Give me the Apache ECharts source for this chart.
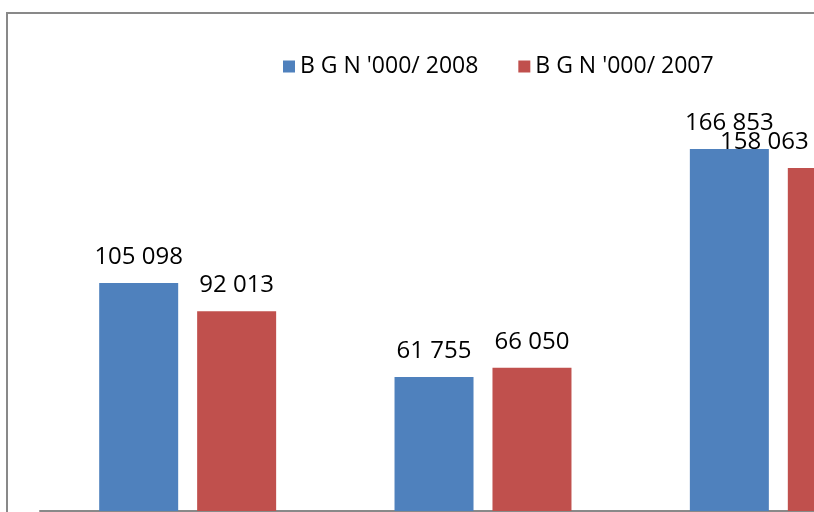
<!DOCTYPE html>
<html>
<head>
<meta charset="utf-8">
<script src="https://cdn.jsdelivr.net/npm/echarts@6/dist/echarts.min.js"></script>
<style>html,body{margin:0;padding:0;background:#fff;}#c{width:814px;height:512px;}</style>
</head>
<body>
<div id="c"></div>
<script>
var categories = ['A', 'B', 'C'];
var values2008 = [105098, 61755, 166853];
var values2007 = [92013, 66050, 158063];
var seriesNames = ["B G N '000/ 2008", "B G N '000/ 2007"];

function fmt(v) {
  return String(v).replace(/\B(?=(\d{3})+(?!\d))/g, ' ');
}

var chart = echarts.init(document.getElementById('c'));
var labelFont = { fontFamily: 'Open Sans', fontSize: 24, color: '#000' };

var data2007 = values2007.map(function (v, i) {
  if (i === 2) return { value: v, label: { offset: [-63, 0] } };
  return v;
});

chart.setOption({
  animation: false,
  backgroundColor: '#fff',
  graphic: [{
    type: 'rect',
    shape: { x: 7, y: 13, width: 900, height: 700 },
    style: { fill: 'none', stroke: '#898989', lineWidth: 2 },
    z: -10
  }],
  legend: {
    left: 283,
    top: 55,
    padding: 0,
    itemWidth: 12,
    itemHeight: 12,
    itemGap: 40,
    icon: 'rect',
    textStyle: { fontFamily: 'Open Sans', fontSize: 23, color: '#000', padding: [0, 0, 0, 0] },
    data: seriesNames
  },
  grid: { left: 40, width: 886, top: 77, bottom: 1, containLabel: false, outerBoundsMode: 'none' },
  xAxis: {
    type: 'category',
    data: categories,
    axisLine: { show: true, lineStyle: { color: '#898989', width: 2 } },
    axisTick: { show: false },
    axisLabel: { show: false }
  },
  yAxis: {
    type: 'value',
    min: 0,
    max: 200000,
    show: false,
    splitLine: { show: false }
  },
  series: [{
    name: seriesNames[0],
    type: 'bar',
    barWidth: 79,
    barGap: '24%',
    itemStyle: { color: '#4F81BD' },
    label: Object.assign({ show: true, position: 'top', distance: 14, formatter: function (p) { return fmt(p.value); } }, labelFont),
    data: values2008
  }, {
    name: seriesNames[1],
    type: 'bar',
    barWidth: 79,
    barGap: '24%',
    itemStyle: { color: '#C0504D' },
    label: Object.assign({ show: true, position: 'top', distance: 14, formatter: function (p) { return fmt(p.value); } }, labelFont),
    data: data2007
  }]
});
</script>
</body>
</html>
